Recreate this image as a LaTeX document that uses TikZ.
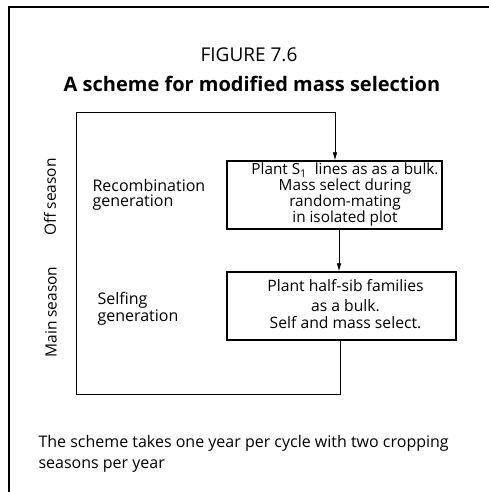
\documentclass[tikz,border=0pt]{standalone}
\usepackage{fontspec}
\setmainfont{Open Sans}
\usetikzlibrary{arrows.meta,positioning}
\begin{document}
\begin{tikzpicture}
[ x=1pt, y=-1pt, font=\fontsize{15}{15}\selectfont
, point/.style={coordinate}
, stage/.style={rectangle, draw, line width=1.3pt, inner sep=0pt}
, label/.style={align=left, anchor=west, font=\fontsize{16}{15}\selectfont}
, season/.style={rotate=90, font=\fontsize{15.5}{15}\selectfont}
, flow/.style={line width=0.6pt}
]
\useasboundingbox (0,0) rectangle (489,492);
% Frame:
\draw [line width=1.4pt] (9,492) -- (9,7) -- (489,7);
% Title:
\node (fig) at (249,55) {\fontsize{19}{20}\selectfont FIGURE 7.6};
\node (title) at (252,84) {\fontsize{20}{22}\selectfont\bfseries A scheme for modified mass selection};
% Boxes:
\node (recomb) [stage, minimum width=215pt, minimum height=68pt] at (334.5,195)
  {\hspace*{21pt}\fontsize{15.3}{14}\selectfont
   \begin{tabular}{@{}c@{}}Plant S\textsubscript{1}\ \ lines as as a bulk.\\ Mass select during\\ random-mating\\ in isolated plot\end{tabular}};
\node (selfing) [stage, minimum width=229pt, minimum height=68pt] at (341.5,306)
  {\hspace*{8pt}\fontsize{15.7}{18}\selectfont
   \begin{tabular}{@{}c@{}}Plant half-sib families\\[2pt] as a bulk.\\[-1pt] Self and mass select.\end{tabular}};
% Side labels:
\node (recomblab) [label] at (89,195) {Recombination\\ generation};
\node (selflab) [label] at (94,309) {Selfing\\ generation};
\node (off) [season] at (50,197) {Off season};
\node (main) [season] at (51,312) {Main season};
% Loop points:
\node (p0) [point] at (340,394) {};
\node (p1) [point] at (76,394) {};
\node (p2) [point] at (76,112) {};
\node (p3) [point] at (335,112) {};
\draw [flow] (selfing.south -| p0) -- (p0) -- (p1) -- (p2) -- (p3);
\draw [flow, -{Latex[length=8pt, width=4.5pt]}] (p3) -- (recomb.north -| p3);
\draw [flow, -{Latex[length=8pt, width=4.5pt]}] (recomb.south -| 339,0) -- (selfing.north -| 339,0);
% Footnote:
\node (note) [align=left, anchor=west, font=\fontsize{16}{21}\selectfont] at (35,454)
  {The scheme takes one year per cycle with two cropping\\ seasons per year};
\end{tikzpicture}
\end{document}
